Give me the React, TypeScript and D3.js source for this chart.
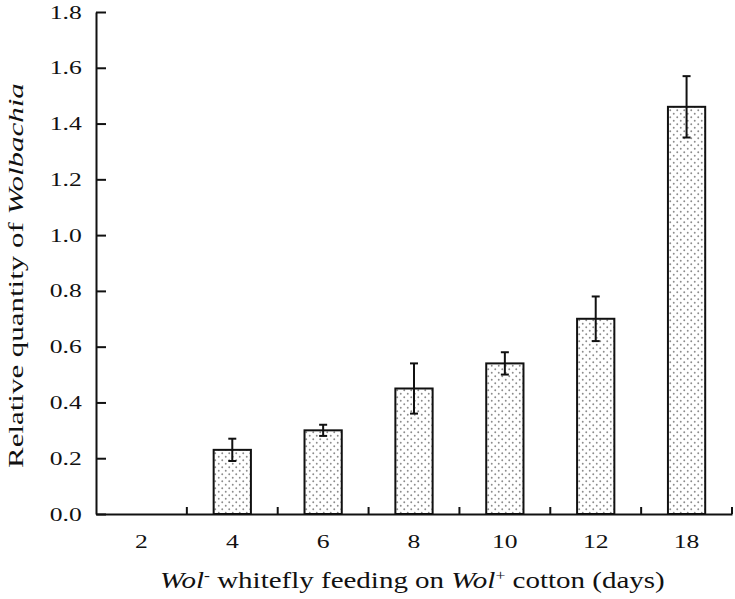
import React, { useRef, useEffect } from "react";
import * as d3 from "d3";

const days = ["2", "4", "6", "8", "10", "12", "18"];
const quantity = [0, 0.23, 0.3, 0.45, 0.54, 0.7, 1.46];
const errors = [0, 0.04, 0.02, 0.09, 0.04, 0.08, 0.11];
const yTicks = [0, 0.2, 0.4, 0.6, 0.8, 1.0, 1.2, 1.4, 1.6, 1.8];

const W = 735;
const H = 599;
const left = 96, right = 732, top = 12, bottom = 514;
const stretch = 1.35; // text in the picture is wider than plain Times

const App = () => {
  const ref = useRef(null);

  useEffect(() => {
    const svg = d3.select(ref.current);
    svg.selectAll("*").remove();
    const font = "'Liberation Serif', 'Times New Roman', serif";

    const x = d3.scaleBand().domain(days).range([left, right]).paddingInner(0.59).paddingOuter(0.295);
    const band = (right - left) / days.length;
    const y = d3.scaleLinear().domain([0, 1.8]).range([bottom, top]);

    // dotted fill
    const defs = svg.append("defs");
    const pat = defs.append("pattern")
      .attr("id", "dots")
      .attr("patternUnits", "userSpaceOnUse")
      .attr("width", 7).attr("height", 7);
    pat.append("rect").attr("width", 7).attr("height", 7).attr("fill", "#fff");
    pat.append("circle").attr("cx", 1.75).attr("cy", 1.75).attr("r", 0.95).attr("fill", "#8c8c8c");
    pat.append("circle").attr("cx", 5.25).attr("cy", 5.25).attr("r", 0.95).attr("fill", "#8c8c8c");

    // bars
    const bars = days.map((d, i) => ({ d, v: quantity[i], e: errors[i] })).filter(b => b.v > 0);
    svg.append("g").selectAll("rect")
      .data(bars)
      .join("rect")
      .attr("x", b => x(b.d))
      .attr("y", b => y(b.v))
      .attr("width", x.bandwidth())
      .attr("height", b => y(0) - y(b.v))
      .attr("fill", "url(#dots)")
      .attr("stroke", "#111")
      .attr("stroke-width", 2);

    // error bars
    const eg = svg.append("g").attr("stroke", "#111").attr("stroke-width", 2);
    bars.forEach(b => {
      const cx = x(b.d) + x.bandwidth() / 2;
      eg.append("line").attr("x1", cx).attr("x2", cx).attr("y1", y(b.v + b.e)).attr("y2", y(b.v - b.e));
      eg.append("line").attr("x1", cx - 4).attr("x2", cx + 4).attr("y1", y(b.v + b.e)).attr("y2", y(b.v + b.e));
      eg.append("line").attr("x1", cx - 4).attr("x2", cx + 4).attr("y1", y(b.v - b.e)).attr("y2", y(b.v - b.e));
    });

    // y axis
    const yAxis = d3.axisLeft(y).tickValues(yTicks).tickFormat(d3.format(".1f")).tickSizeInner(-10).tickSizeOuter(0);
    svg.append("g")
      .attr("transform", `translate(${left},0)`)
      .call(yAxis)
      .call(g => g.select(".domain").attr("stroke", "#111").attr("stroke-width", 2))
      .call(g => g.selectAll(".tick line").attr("stroke", "#111").attr("stroke-width", 2))
      .call(g => g.selectAll(".tick text")
        .attr("x", -10.5)
        .attr("transform", `scale(${stretch},1)`)
        .attr("font-family", font).attr("font-size", 19).attr("fill", "#111"));

    // x axis
    const xAxis = d3.axisBottom(x).tickSize(0);
    svg.append("g")
      .attr("transform", `translate(0,${bottom})`)
      .call(xAxis)
      .call(g => g.select(".domain").attr("stroke", "#111").attr("stroke-width", 2))
      .call(g => g.selectAll(".tick text")
        .attr("y", 34).attr("dy", 0)
        .attr("transform", `scale(${stretch},1)`)
        .attr("font-family", font).attr("font-size", 19).attr("fill", "#111"));

    // boundary ticks pointing up
    svg.append("g").selectAll("line")
      .data(d3.range(1, days.length + 1))
      .join("line")
      .attr("x1", i => left + i * band)
      .attr("x2", i => left + i * band)
      .attr("y1", bottom)
      .attr("y2", bottom - 7)
      .attr("stroke", "#111")
      .attr("stroke-width", 2);

    // axis titles
    const xt = svg.append("text")
      .attr("font-family", font).attr("font-size", 23).attr("fill", "#111");
    xt.append("tspan").attr("font-style", "italic").text("Wol");
    xt.append("tspan").attr("dy", -8).attr("font-size", 14).text("-");
    xt.append("tspan").attr("dy", 8).text(" whitefly feeding on ");
    xt.append("tspan").attr("font-style", "italic").text("Wol");
    xt.append("tspan").attr("dy", -8).attr("font-size", 14).text("+");
    xt.append("tspan").attr("dy", 8).text(" cotton (days)");
    const xw = xt.node().getBBox().width;
    xt.attr("transform", `translate(160,588) scale(${505 / xw},1)`);

    const yt = svg.append("text")
      .attr("font-family", font).attr("font-size", 22).attr("fill", "#111");
    yt.append("tspan").text("Relative quantity of ");
    yt.append("tspan").attr("font-style", "italic").text("Wolbachia");
    const yw = yt.node().getBBox().width;
    yt.attr("transform", `translate(23,468) rotate(-90) scale(${385 / yw},1)`);
  }, []);

  return (
    <svg ref={ref} width={W} height={H} style={{ position: "absolute", left: 0, top: 0, background: "#fff" }} />
  );
};

export default App;
